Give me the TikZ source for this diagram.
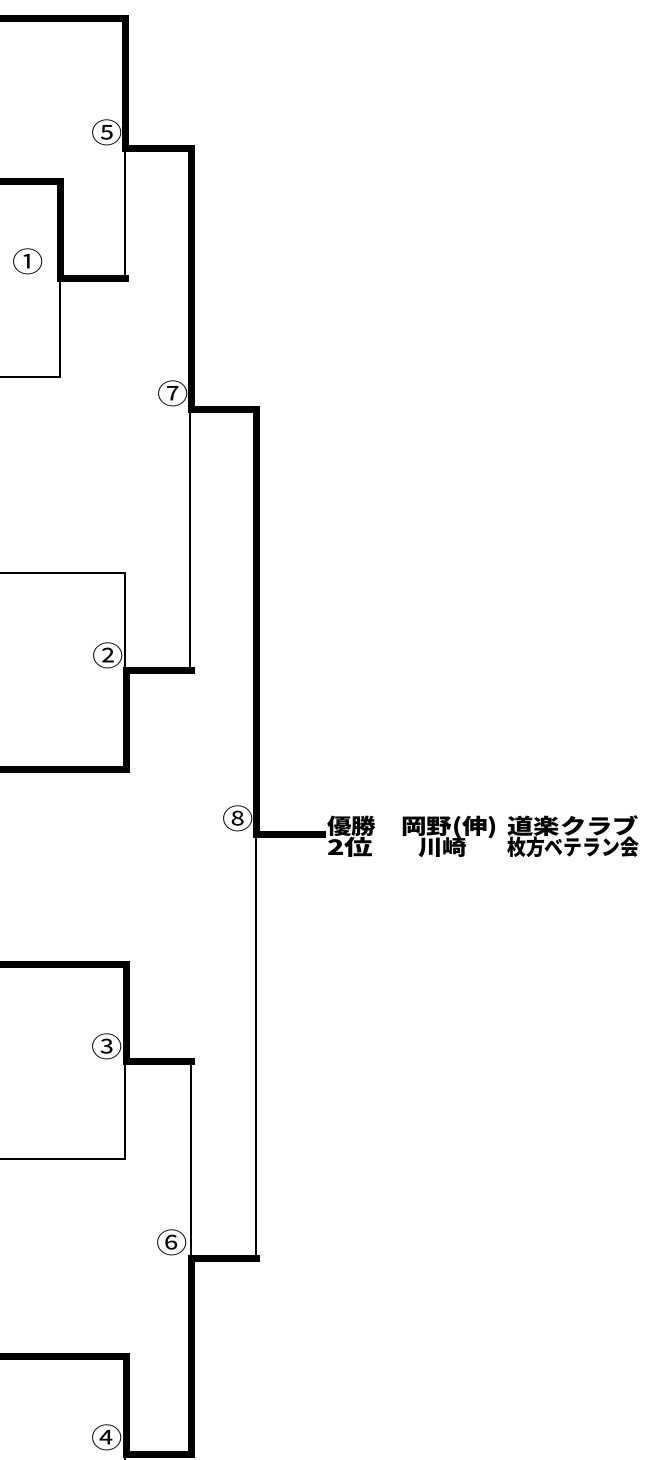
\documentclass[tikz,border=0pt]{standalone}
\usepackage{fontspec}
\usepackage{graphicx}
\newfontfamily\jp{Noto Sans CJK JP}
\newcommand{\seg}[2]{\resizebox{#1}{\height}{#2}}
\newcommand{\cnum}[1]{\scalebox{1.12}[1]{#1}}
\begin{document}
\begin{tikzpicture}[x=1pt,y=-1pt,
  thick line/.style={line width=7pt,line join=miter,line cap=rect},
  thin line/.style={line width=2.2pt},
  num/.style={font=\jp\fontsize{28}{28}\selectfont,inner sep=0pt,anchor=center},
  lab/.style={font=\jp\bfseries\fontsize{21.5}{22}\selectfont,inner sep=0pt,anchor=base west}]
\useasboundingbox (0,0) rectangle (669,1460);
% coordinates
\coordinate (t5) at (0,18);
\coordinate (j5) at (125.5,148);
\coordinate (w5) at (191,148);
\coordinate (t1) at (0,181);
\coordinate (j1) at (60,278);
\coordinate (b1) at (0,377);
\coordinate (j7) at (191,409);
\coordinate (w7) at (256,409);
\coordinate (t2) at (0,573);
\coordinate (j2) at (126,670);
\coordinate (b2) at (0,769);
\coordinate (j8) at (256,834);
\coordinate (w8) at (322,834);
\coordinate (t3) at (0,964);
\coordinate (j3) at (126,1061);
\coordinate (b3) at (0,1159);
\coordinate (j6) at (191,1258);
\coordinate (t4) at (0,1356);
\coordinate (j4) at (126,1454);
% thin lines
\draw[thin line] (j1) -- (60,377) -- (b1);
\draw[thin line] (125,150) -- (125,278);
\draw[thin line] (190,411) -- (190,670);
\draw[thin line] (t2) -| (125,670);
\draw[thin line] (256,836) -- (256,1258);
\draw[thin line] (b3) -| (125,1061);
\draw[thin line] (191,1063) -- (191,1258);
\draw[thin line] (125,1456) -- (125,1460);
% thick lines
\draw[thick line] (t5) -| (j5) -- (w5) -- (j7) -- (w7) -- (j8) -- (w8);
\draw[thick line] (t1) -| (j1) -- (125,278);
\draw[thick line] (b2) -| (j2) -- (191,670);
\draw[thick line] (t3) -| (j3) -- (191,1061);
\draw[thick line] (256,1258) -- (j6) -- (191,1454) -- (j4) -- (126,1356) -- (t4);
% match numbers
\node[num] (n5) at (107,133) {\cnum{⑤}};
\node[num] (n1) at (28,262) {\cnum{①}};
\node[num] (n7) at (173,394) {\cnum{⑦}};
\node[num] (n2) at (108,656) {\cnum{②}};
\node[num] (n8) at (238,819) {\cnum{⑧}};
\node[num] (n3) at (107,1047) {\cnum{③}};
\node[num] (n6) at (172,1243) {\cnum{⑥}};
\node[num] (n4) at (107,1438) {\cnum{④}};
% result labels
\node[lab] (a1) at (327,834) {\seg{49pt}{優勝}};
\node[lab] (a2) at (401,834) {\seg{97pt}{岡野(伸)}};
\node[lab] (a3) at (507,834) {\seg{132pt}{道楽クラブ}};
\node[lab] (b1l) at (327,855) {\seg{46pt}{2位}};
\node[lab] (b2l) at (418,855) {\seg{49pt}{川崎}};
\node[lab] (b3l) at (507,855) {\seg{132pt}{枚方ベテラン会}};
\end{tikzpicture}
\end{document}
